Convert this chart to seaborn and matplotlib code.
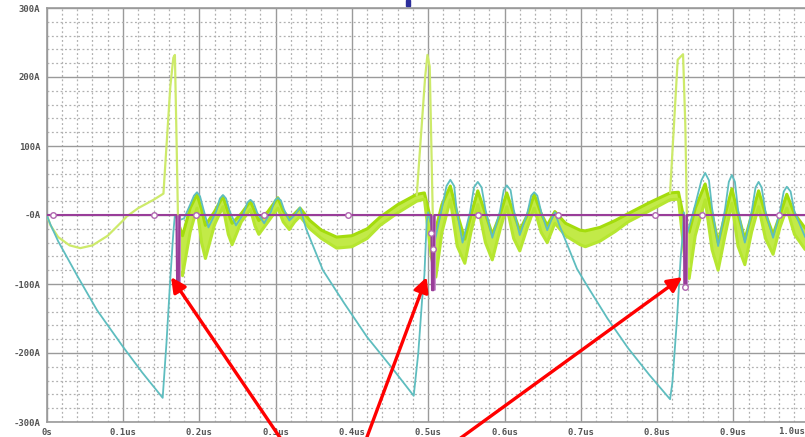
import numpy as np
import pandas as pd
import matplotlib
matplotlib.use("Agg")
import matplotlib.pyplot as plt
from matplotlib.ticker import MultipleLocator, FixedLocator
from matplotlib.patches import Rectangle
import seaborn as sns

# --- dados (tempo em us, corrente em A) ---
# corrente ciano (rampa + oscilação)
t_teal = [0.000, 0.005, 0.015, 0.040, 0.066, 0.100, 0.125, 0.152, 0.157, 0.162, 0.166, 0.168,
          0.172, 0.180, 0.188, 0.193, 0.197, 0.201, 0.205, 0.212, 0.222, 0.227, 0.231, 0.235,
          0.240, 0.248, 0.258, 0.263, 0.267, 0.271, 0.276, 0.285, 0.294, 0.299, 0.303, 0.307,
          0.311, 0.318, 0.325, 0.332,
          0.340, 0.362, 0.390, 0.420, 0.455, 0.481, 0.487, 0.492, 0.495, 0.498, 0.500,
          0.504, 0.509, 0.518, 0.524, 0.529, 0.534, 0.537, 0.545, 0.555, 0.560, 0.565, 0.570,
          0.575, 0.584, 0.594, 0.599, 0.603, 0.608, 0.612, 0.620, 0.630, 0.635, 0.639, 0.643,
          0.648, 0.656, 0.661, 0.666,
          0.672, 0.695, 0.708, 0.735, 0.762, 0.790, 0.817, 0.820, 0.826, 0.831, 0.833, 0.835,
          0.840, 0.850, 0.858, 0.863, 0.868, 0.872, 0.880, 0.889, 0.894, 0.898, 0.902, 0.906,
          0.915, 0.924, 0.929, 0.933, 0.937, 0.942, 0.952, 0.961, 0.966, 0.970, 0.975, 0.980,
          0.994]
i_teal = [0, -14, -38, -88, -138, -191, -228, -265, -185, -92, -25, 0,
          -8, -5, 15, 28, 33, 27, 10, -18, 5, 24, 29, 24,
          5, -15, 2, 18, 22, 18, 3, -12, 5, 21, 25, 21,
          8, -8, 0, 11,
          -20, -80, -128, -177, -225, -262, -200, -123, -87, -10, 4,
          -15, -36, 10, 42, 51, 42, 10, -40, 5, 40, 48, 40,
          8, -33, 5, 36, 43, 36, 8, -29, 3, 28, 33, 28,
          5, -22, -8, 4,
          -15, -78, -102, -150, -193, -232, -267, -243, -152, -60, -36, 4,
          -25, 15, 50, 61, 50, 10, -45, 8, 48, 58, 48, 8,
          -40, 5, 40, 48, 40, 5, -33, 5, 34, 41, 34, 5,
          -32]

# faixa verde (envelope superior / inferior)
t_band = [0.172, 0.178, 0.188, 0.197, 0.203, 0.208, 0.220, 0.231, 0.238, 0.243, 0.255, 0.267,
          0.273, 0.278, 0.290, 0.303, 0.310, 0.318, 0.325, 0.332,
          0.345, 0.360, 0.380, 0.400, 0.420, 0.437, 0.460, 0.485, 0.495,
          0.504, 0.510, 0.518, 0.529, 0.538, 0.548, 0.556, 0.565, 0.575, 0.584, 0.594, 0.603,
          0.612, 0.620, 0.630, 0.639, 0.648, 0.656, 0.666,
          0.680, 0.699, 0.706, 0.725, 0.745, 0.762, 0.790, 0.817, 0.828,
          0.836, 0.842, 0.850, 0.863, 0.872, 0.880, 0.889, 0.898, 0.906, 0.915, 0.924, 0.933,
          0.942, 0.952, 0.961, 0.970, 0.980, 0.994]
i_band_hi = [-10, -30, 10, 30, 8, -15, 5, 27, 3, -12, 2, 20,
             4, -8, 5, 25, 6, -5, 2, 10,
             -8, -22, -32, -30, -20, -3, 15, 30, 32,
             -10, -20, 15, 42, 2, -35, 0, 35, 2, -28, 0, 32,
             2, -22, 0, 30, 2, -15, 5,
             -12, -22, -23, -18, -8, 2, 18, 32, 33,
             -10, -25, 10, 45, 2, -40, 0, 38, 2, -35, 0, 35,
             2, -28, 0, 30, 2, -19]
i_band_lo = [-40, -88, -25, 10, -40, -63, -14, 12, -28, -43, -10, 8,
             -16, -28, -10, 10, -10, -21, -10, -2,
             -20, -34, -48, -46, -34, -15, 3, 20, 23,
             -60, -90, -25, 22, -45, -70, -25, 15, -40, -65, -22, 12,
             -34, -52, -18, 10, -25, -40, -12,
             -30, -43, -46, -38, -24, -10, 6, 22, 23,
             -60, -92, -30, 22, -50, -80, -30, 17, -45, -72, -24, 12,
             -34, -57, -18, 10, -28, -50]

# traço verde claro com os picos de 230 A
t_spk1 = [0.000, 0.005, 0.015, 0.030, 0.044, 0.060, 0.080, 0.100, 0.105, 0.120, 0.140, 0.153,
          0.162, 0.166, 0.168, 0.170, 0.172, 0.176]
i_spk1 = [0, -15, -32, -44, -48, -44, -30, -8, -2, 10, 22, 31,
          186, 228, 232, 120, 0, -80]
t_spk2 = [0.485, 0.496, 0.499, 0.502, 0.506, 0.509]
i_spk2 = [29, 200, 232, 215, 0, -75]
t_spk3 = [0.817, 0.827, 0.834, 0.837, 0.839, 0.842]
i_spk3 = [32, 225, 233, 130, 0, -75]

# corrente roxa (~0 A) com pulsos negativos
t_purple = [0.000, 0.170, 0.171, 0.173, 0.174, 0.504, 0.505, 0.507, 0.508,
            0.835, 0.836, 0.838, 0.839, 0.994]
i_purple = [0, 0, -112, -112, 0, 0, -109, -109, 0, 0, -104, -104, 0, 0]
t_pulse = [0.172, 0.506, 0.837]
i_pulse = [-112, -109, -104]
t_mark = [0.008, 0.141, 0.196, 0.285, 0.395, 0.504, 0.506, 0.565, 0.670, 0.797, 0.837, 0.859, 0.960]
i_mark = [0, 0, 0, 0, 0, -26, -49, 0, 0, 0, -104, 0, 0]

# pontas das setas vermelhas
t_arrow = [0.163, 0.498, 0.833]
i_arrow = [-90, -90, -90]
tail_px = [(285, -8), (364, -8), (451, -8)]

x_ticks = [0.0, 0.1, 0.2, 0.3, 0.4, 0.5, 0.6, 0.7, 0.8, 0.9, 1.0]
x_labels = ['0s', '0.1us', '0.2us', '0.3us', '0.4us', '0.5us', '0.6us', '0.7us', '0.8us', '0.9us', '1.0us']
y_ticks = [-300, -200, -100, 0, 100, 200, 300]
y_labels = ['-300A', '-200A', '-100A', '-0A', '100A', '200A', '300A']

# --- figura ---
sns.set_style("white")
W, H = 805, 437
fig = plt.figure(figsize=(W / 100, H / 100), dpi=100)
x0, ytop, ybot = 46.7, 8, 422
px_per_us = 763.0
ax = fig.add_axes([x0 / W, (H - ybot) / H, (W - x0) / W, (ybot - ytop) / H])

ax.set_xlim(0, (W - x0) / px_per_us)
ax.set_ylim(-300, 300)
ax.xaxis.set_major_locator(FixedLocator(x_ticks[:-1]))
ax.xaxis.set_minor_locator(MultipleLocator(0.02))
ax.yaxis.set_major_locator(FixedLocator(y_ticks))
ax.yaxis.set_minor_locator(MultipleLocator(20))
ax.set_xticklabels(x_labels[:-1])
ax.set_yticklabels(y_labels)
ax.grid(True, which='major', color='#9a9a9a', lw=1.0, ls='-')
ax.grid(True, which='minor', color='#b0b0b0', lw=0.9, ls=(0, (1.5, 2.0)))
ax.set_axisbelow(True)
for s in ['left', 'top', 'bottom']:
    ax.spines[s].set_color('#9a9a9a')
    ax.spines[s].set_linewidth(1.2)
ax.spines['right'].set_visible(False)
ax.tick_params(which='major', length=3, color='#9a9a9a', labelsize=6.5, labelcolor='#555555', pad=1.5)
ax.tick_params(which='minor', length=0)
tick_font = dict(family='DejaVu Sans Mono', fontweight='bold')
for lab in ax.get_xticklabels() + ax.get_yticklabels():
    lab.set_family(tick_font['family'])
    lab.set_fontweight(tick_font['fontweight'])

# último rótulo (1.0us): encostado na borda direita para caber inteiro
ax.text(1.0, -0.012, x_labels[-1], transform=ax.transAxes, ha='right', va='top',
        fontsize=6.5, color='#555555', clip_on=False, **tick_font)

# faixa verde
ax.fill_between(t_band, i_band_lo, i_band_hi, color='#c2ea48', lw=0, zorder=2)
sns.lineplot(x=t_band, y=i_band_hi, ax=ax, color='#a4dc0c', lw=2.2, sort=False, estimator=None, zorder=3)
sns.lineplot(x=t_band, y=i_band_lo, ax=ax, color='#b6e630', lw=2.2, sort=False, estimator=None, zorder=3)

# traço verde claro com picos
for tt, ii in [(t_spk1, i_spk1), (t_spk2, i_spk2), (t_spk3, i_spk3)]:
    sns.lineplot(x=tt, y=ii, ax=ax, color='#cdea6a', lw=1.6, sort=False, estimator=None, zorder=4)

# ciano
sns.lineplot(x=t_teal, y=i_teal, ax=ax, color='#5ebdbf', lw=1.3, sort=False, estimator=None, zorder=5)

# roxo
ax.vlines(t_pulse, i_pulse, 0, color='#c58ccc', lw=3.5, zorder=6)
sns.lineplot(x=t_purple, y=i_purple, ax=ax, color='#993d99', lw=1.5, sort=False, estimator=None, zorder=7)
ax.scatter(t_mark, i_mark, s=16, marker='o', facecolor='white', edgecolor='#b066b0', lw=1.0, zorder=8)

# setas vermelhas
for tx, iy, tail in zip(t_arrow, i_arrow, tail_px):
    ax.annotate('', xy=(tx, iy), xycoords='data', xytext=tail, textcoords='figure pixels',
                arrowprops=dict(arrowstyle='-|>', color='#ff0000', lw=2.4, mutation_scale=22,
                                shrinkA=0, shrinkB=0),
                annotation_clip=False, zorder=10)

# resto do título cortado no topo
fig.patches.append(Rectangle((406 / W, (H - 6) / H), 4 / W, 6 / H, transform=fig.transFigure,
                             color='#2b2d9b', zorder=20))

fig.savefig('out.png', dpi=100)
